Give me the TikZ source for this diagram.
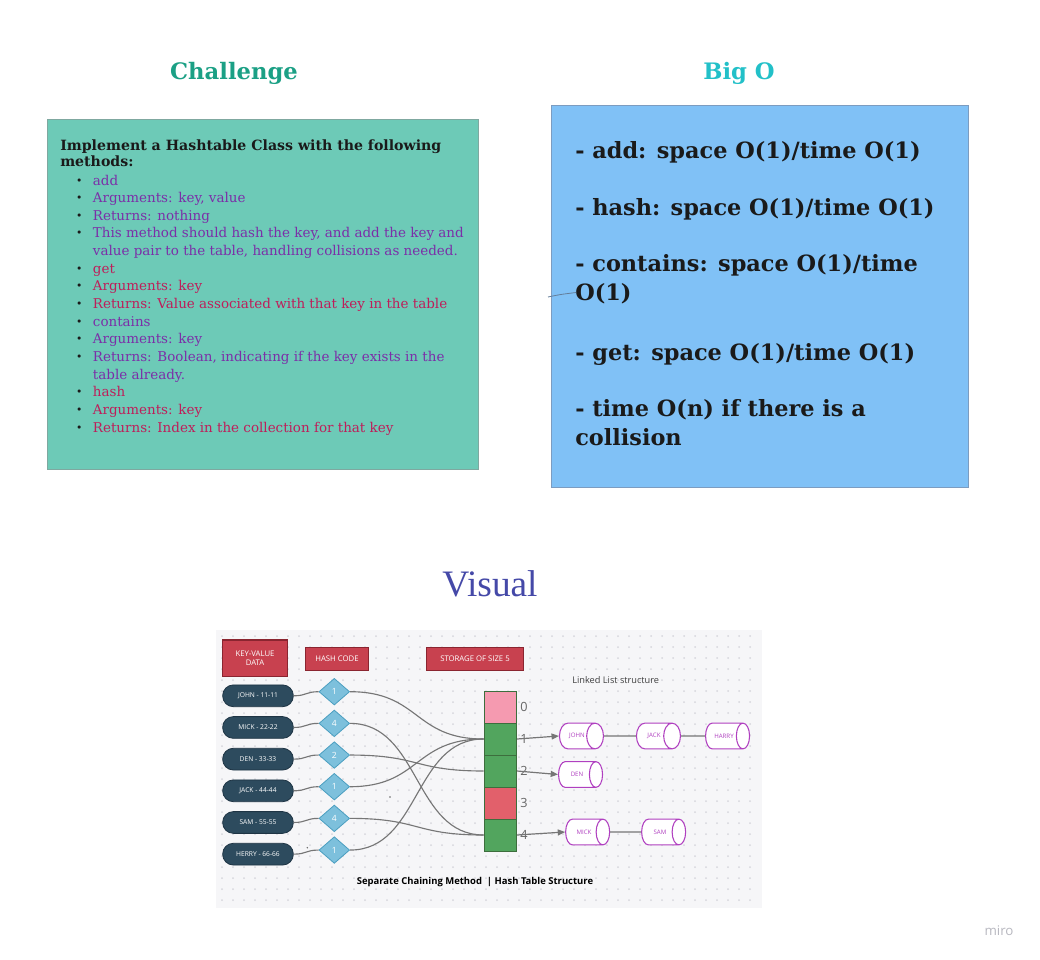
\documentclass[tikz,border=0pt]{standalone}
\usepackage{fontspec}
\setmainfont{DejaVu Serif}
\newfontfamily\visfont{Liberation Serif}
\newfontfamily\osans{Open Sans}
\usetikzlibrary{shapes.geometric,arrows.meta}
\definecolor{titlegreen}{HTML}{1BA085}
\definecolor{bigocyan}{HTML}{22C0C8}
\definecolor{chfill}{HTML}{6DCAB7}
\definecolor{chborder}{HTML}{7FA8A0}
\definecolor{purpletxt}{HTML}{7B2FA8}
\definecolor{crimsontxt}{HTML}{BE1E5A}
\definecolor{bofill}{HTML}{80C1F6}
\definecolor{boborder}{HTML}{7C9CC0}
\definecolor{darktxt}{HTML}{1A1A1A}
\definecolor{visblue}{HTML}{4549A8}
\definecolor{visbg}{HTML}{F6F6F8}
\definecolor{dotc}{HTML}{D6D6DC}
\definecolor{hdrfill}{HTML}{C8414F}
\definecolor{hdrborder}{HTML}{8A2530}
\definecolor{pillfill}{HTML}{2D4B5E}
\definecolor{pillborder}{HTML}{1E3444}
\definecolor{diafill}{HTML}{7DC0DC}
\definecolor{diaborder}{HTML}{4A9EC0}
\definecolor{cellgreen}{HTML}{52A55E}
\definecolor{cellpink}{HTML}{F59AB0}
\definecolor{cellred}{HTML}{E2606B}
\definecolor{cellborder}{HTML}{3D6E3D}
\definecolor{cylpurple}{HTML}{B040C0}
\definecolor{linegray}{HTML}{767676}
\definecolor{mirogray}{HTML}{B8B8C0}
\begin{document}
\begin{tikzpicture}[x=0.75pt,y=-0.75pt,
  title/.style={font=\fontsize{17}{20}\selectfont\bfseries, anchor=base},
  chline/.style={anchor=base west, inner sep=0pt, font=\fontsize{10.1}{11}\selectfont},
  chbold/.style={chline, font=\fontsize{10.6}{12}\selectfont\bfseries, text=darktxt},
  bul/.style={anchor=base, inner sep=0pt, font=\fontsize{8}{9}\selectfont, text=darktxt},
  boline/.style={anchor=base west, inner sep=0pt, font=\fontsize{16.8}{19}\selectfont\bfseries, text=darktxt},
  hdr/.style={draw=hdrborder, line width=0.9pt, fill=hdrfill, text=white, align=center, inner sep=0pt, font=\osans\fontsize{5.8}{6.6}\selectfont},
  pill/.style={draw=pillborder, line width=0.6pt, fill=pillfill, rounded corners=8pt, minimum width=53pt, minimum height=16.3pt, inner sep=0pt, text=white, font=\osans\fontsize{5}{6}\selectfont},
  hashdia/.style={diamond, draw=diaborder, line width=0.6pt, fill=diafill, minimum width=23pt, minimum height=20pt, inner sep=0pt, text=white, font=\osans\fontsize{6.4}{7}\selectfont},
  cell/.style={draw=cellborder, line width=0.6pt, minimum width=24.5pt, minimum height=24pt, inner sep=0pt},
  idx/.style={anchor=west, inner sep=0pt, text=black!60, font=\osans\fontsize{9.5}{10}\selectfont},
  cyl/.style={cylinder, shape border rotate=0, aspect=3, draw=cylpurple, line width=0.8pt, fill=white, minimum width=19.3pt, minimum height=33pt, inner sep=0pt, text=cylpurple, font=\osans\fontsize{4.6}{5}\selectfont},
  curve/.style={draw=linegray, line width=0.85pt},
  arr/.style={draw=linegray, line width=0.9pt, -{Triangle[length=5.5pt,width=4.5pt]}}
]
\useasboundingbox[fill=white] (0,0) rectangle (1040,960);

% ---- titles
\node[title, text=titlegreen] (tch) at (234,79) {Challenge};
\node[title, text=bigocyan] (tbo) at (739,79) {Big O};

% ---- Challenge box
\node[draw=chborder, line width=0.7pt, fill=chfill, minimum width=323.3pt, minimum height=262.5pt, inner sep=0pt, anchor=north west] (chbox) at (47,119) {};
\node[chbold] (ch0) at (60,150) {Implement a Hashtable Class with the following};
\node[chbold] (ch1) at (60,166.7) {methods:};
\foreach \t/\c [count=\i from 0] in {
  add/purpletxt,
  {Arguments: key, value}/purpletxt,
  {Returns: nothing}/purpletxt,
  {This method should hash the key, and add the key and}/purpletxt,
  {value pair to the table, handling collisions as needed.}/purpletxt,
  get/crimsontxt,
  {Arguments: key}/crimsontxt,
  {Returns: Value associated with that key in the table}/crimsontxt,
  contains/purpletxt,
  {Arguments: key}/purpletxt,
  {Returns: Boolean, indicating if the key exists in the}/purpletxt,
  {table already.}/purpletxt,
  hash/crimsontxt,
  {Arguments: key}/crimsontxt,
  {Returns: Index in the collection for that key}/crimsontxt}
  {\node[chline, text=\c] (li\i) at (92.7,185+17.65*\i) {\t};}
\foreach \i in {0,1,2,3,5,6,7,8,9,10,12,13,14}
  {\node[bul] (bu\i) at (79.3,184+17.65*\i) {•};}

% ---- Big O box
\node[draw=boborder, line width=0.7pt, fill=bofill, minimum width=312.8pt, minimum height=286.5pt, inner sep=0pt, anchor=north west] (bobox) at (551,105) {};
\node[boline] (bo1) at (575,158.3) {- add: space O(1)/time O(1)};
\node[boline] (bo2) at (575,215) {- hash: space O(1)/time O(1)};
\node[boline] (bo3) at (575,271.7) {- contains: space O(1)/time};
\node[boline] (bo4) at (575,300.7) {O(1)};
\node[boline] (bo5) at (575,360) {- get: space O(1)/time O(1)};
\node[boline] (bo6) at (575,416.7) {- time O(n) if there is a};
\node[boline] (bo7) at (575,445) {collision};
\coordinate (st1) at (548,297);
\coordinate (st2) at (576,292.5);
\draw[draw=boborder!80!black, line width=0.6pt] (st1) .. controls (560,294.5) .. (st2);

% ---- Visual
\node[anchor=base, text=visblue, font=\visfont\fontsize{28}{32}\selectfont] (tvis) at (490,596.7) {Visual};

\fill[visbg] (216,630) rectangle (762,908);
\foreach \x in {222,233,...,760}
  \foreach \y in {636,647,...,905}
    {\fill[dotc] (\x,\y) circle (1);}

\node[hdr, minimum width=48.5pt, minimum height=27.5pt] (hkv) at (255,658.3) {KEY-VALUE\\DATA};
\node[hdr, minimum width=47pt, minimum height=17.5pt] (hhc) at (337,659) {HASH CODE};
\node[hdr, minimum width=72.5pt, minimum height=17.5pt] (hst) at (475,659) {STORAGE OF SIZE 5};

\foreach \n/\t/\h [count=\i from 0] in {john/JOHN - 11-11/1, mick/MICK - 22-22/4, den/DEN - 33-33/2, jack/JACK - 44-44/1, sam/SAM - 55-55/4, herry/HERRY - 66-66/1}
{
  \node[pill] (p\n) at (258,695.8+31.67*\i) {\t};
  \node[hashdia] (d\n) at (334.3,691.7+31.67*\i) {\h};
  \draw[curve] (p\n.east) .. controls +(13,0) and +(-13,0) .. (d\n.west);
}

\node[cell, fill=cellpink] (c0) at (500.3,707) {};
\node[cell, fill=cellgreen] (c1) at (500.3,739) {};
\node[cell, fill=cellgreen] (c2) at (500.3,771) {};
\node[cell, fill=cellred] (c3) at (500.3,803) {};
\node[cell, fill=cellgreen] (c4) at (500.3,835) {};

\foreach \i in {0,...,4}
  {\node[idx] (ix\i) at (520,706.5+32*\i) {\i};}

\draw[curve] (djohn.east) .. controls +(70,0) and +(-70,0) .. (c1.west);
\draw[curve] (dmick.east) .. controls +(70,0) and +(-70,0) .. (c4.west);
\draw[curve] (dden.east) .. controls +(70,0) and +(-70,0) .. (c2.west);
\draw[curve] (djack.east) .. controls +(70,0) and +(-70,0) .. (c1.west);
\draw[curve] (dsam.east) .. controls +(70,0) and +(-70,0) .. (c4.west);
\draw[curve] (dherry.east) .. controls +(70,0) and +(-70,0) .. (c1.west);

\node[text=black!75, font=\osans\fontsize{6.9}{8}\selectfont] (llt) at (615.7,680) {Linked List structure};

\node[cyl] (ljohn) at (577,736) {JOHN};
\node[cyl] (ljack) at (654,736) {JACK};
\node[cyl] (lharry) at (724,736) {HARRY};
\node[cyl] (lden) at (577,774.5) {DEN};
\node[cyl] (lmick) at (584,832) {MICK};
\node[cyl] (lsam) at (660,832) {SAM};

\draw[arr] (c1.east) -- (ljohn.west);
\draw[arr] (c2.east) -- (lden.west);
\draw[arr] (c4.east) -- (lmick.west);
\draw[curve] (ljohn.east) -- (ljack.west);
\draw[curve] (ljack.east) -- (lharry.west);
\draw[curve] (lmick.east) -- (lsam.west);

\node[text=black, font=\osans\bfseries\fontsize{7.1}{8}\selectfont] (cap) at (475,882.5) {Separate Chaining Method \ | Hash Table Structure};

\fill[black!60] (390,797) circle (0.8);
\fill[black!60] (307.3,847.7) circle (0.8);

% ---- watermark
\node[text=mirogray, font=\osans\fontsize{10}{12}\selectfont] (miro) at (999,931) {miro};
\end{tikzpicture}
\end{document}
